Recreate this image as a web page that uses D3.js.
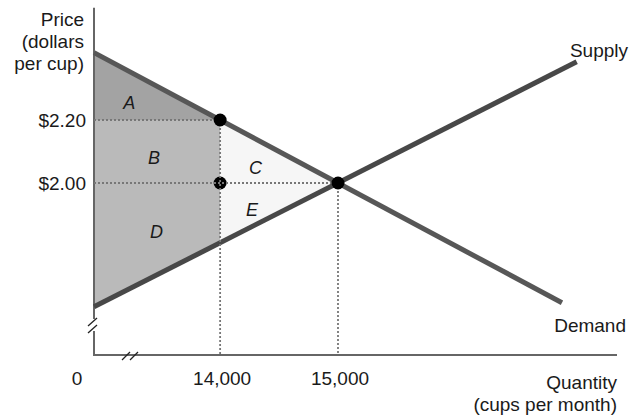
<html>
<head>
    <meta charset="utf-8">
    <script src="https://d3js.org/d3.v7.min.js"></script>
    <style>
        body { margin: 0; background: #fff; }
        text { font-family: "Liberation Sans", Arial, sans-serif; fill: #1a1a1a; }
    </style>
</head>
<body>
<svg id="chart" width="630" height="416"></svg>
<script>
    // quantity (cups per month) and price (dollars per cup)
    const demandQ = [12930, 16900];
    const demandP = [2.414, 1.62];
    const supplyQ = [12930, 17025];
    const supplyP = [1.607, 2.385];

    const qTicks = [14000, 15000];
    const qTickLabels = ["14,000", "15,000"];
    const pTicks = [2.20, 2.00];
    const pTickLabels = ["$2.20", "$2.00"];

    // points: price-ceiling quantity on demand, same quantity at equilibrium price, equilibrium
    const dotQ = [14000, 14000, 15000];
    const dotP = [2.20, 2.00, 2.00];

    const areaLabels = ["A", "B", "C", "D", "E"];
    const areaQ = [13230, 13440, 14300, 13460, 14270];
    const areaP = [2.25, 2.075, 2.045, 1.84, 1.91];

    const qMin = 12930, pMin = 1.454, pMax = 2.556;
    const fs = 19;

    const svg = d3.select("svg#chart");
    const x = d3.scaleLinear().domain([qMin, 15000]).range([94, 338]);
    const y = d3.scaleLinear().domain([2.00, 2.20]).range([183, 120]);

    const supplyAt = q => supplyP[0] + (q - supplyQ[0]) * (supplyP[1] - supplyP[0]) / (supplyQ[1] - supplyQ[0]);
    const demandAt = q => demandP[0] + (q - demandQ[0]) * (demandP[1] - demandP[0]) / (demandQ[1] - demandQ[0]);

    const line = d3.line().x(d => x(d[0])).y(d => y(d[1]));

    // shaded areas
    svg.append("path")
       .attr("d", line([[qMin, demandAt(qMin)], [14000, 2.20], [qMin, 2.20]]) + "Z")
       .attr("fill", "#a3a3a3");
    svg.append("path")
       .attr("d", line([[qMin, 2.20], [14000, 2.20], [14000, supplyAt(14000)], [qMin, supplyAt(qMin)]]) + "Z")
       .attr("fill", "#bababa");
    svg.append("path")
       .attr("d", line([[14000, 2.20], [15000, 2.00], [14000, supplyAt(14000)]]) + "Z")
       .attr("fill", "#f6f6f6");

    // axes with breaks
    const axisColor = "#666";
    const x0 = x(qMin), yBase = y(pMin), yTop = y(pMax);
    svg.append("line").attr("x1", x0).attr("x2", x0).attr("y1", yTop).attr("y2", 319)
       .attr("stroke", axisColor).attr("stroke-width", 2);
    svg.append("line").attr("x1", x0).attr("x2", x0).attr("y1", 331).attr("y2", yBase)
       .attr("stroke", axisColor).attr("stroke-width", 2);
    svg.append("line").attr("x1", x0 - 1).attr("x2", 617).attr("y1", yBase).attr("y2", yBase)
       .attr("stroke", axisColor).attr("stroke-width", 2);
    [[88, 326, 97, 318], [88, 333, 97, 325], [122, 360, 130, 352], [130, 360, 138, 352]].forEach(s => {
        svg.append("line").attr("x1", s[0]).attr("y1", s[1]).attr("x2", s[2]).attr("y2", s[3])
           .attr("stroke", "#222").attr("stroke-width", 1.3);
    });

    // supply & demand curves
    svg.append("path").attr("d", line(demandQ.map((q, i) => [q, demandP[i]])))
       .attr("stroke", "#575757").attr("stroke-width", 5).attr("fill", "none");
    svg.append("path").attr("d", line(supplyQ.map((q, i) => [q, supplyP[i]])))
       .attr("stroke", "#484848").attr("stroke-width", 5).attr("fill", "none");

    // dots (middle one under the dotted lines)
    svg.append("circle").attr("cx", x(dotQ[1])).attr("cy", y(dotP[1])).attr("r", 6.5).attr("fill", "#000");

    // dotted guides
    const dotted = (x1, y1, x2, y2) => svg.append("line")
        .attr("x1", x1).attr("y1", y1).attr("x2", x2).attr("y2", y2)
        .attr("stroke", "#777").attr("stroke-width", 1.8).attr("stroke-dasharray", "2,2");
    dotted(x0, y(2.20), x(14000), y(2.20));
    dotted(x0, y(2.00), x(15000), y(2.00));
    dotted(x(14000), y(2.20), x(14000), yBase);
    dotted(x(15000), y(2.00), x(15000), yBase);

    [0, 2].forEach(i => {
        svg.append("circle").attr("cx", x(dotQ[i])).attr("cy", y(dotP[i])).attr("r", 6.5).attr("fill", "#000");
    });

    // area letters
    areaLabels.forEach((t, i) => {
        svg.append("text").attr("x", x(areaQ[i])).attr("y", y(areaP[i]))
           .attr("text-anchor", "middle").attr("dominant-baseline", "middle")
           .attr("font-size", 18).attr("font-style", "italic").text(t);
    });

    // tick labels
    pTicks.forEach((p, i) => {
        svg.append("text").attr("x", 86).attr("y", y(p)).attr("dy", "0.36em")
           .attr("text-anchor", "end").attr("font-size", fs).text(pTickLabels[i]);
    });
    qTicks.forEach((q, i) => {
        svg.append("text").attr("x", x(q) + 2).attr("y", 385)
           .attr("text-anchor", "middle").attr("font-size", fs).text(qTickLabels[i]);
    });
    svg.append("text").attr("x", 77).attr("y", 385).attr("text-anchor", "middle").attr("font-size", fs).text("0");

    // axis titles
    const multi = (lines, xx, y0, anchor) => lines.forEach((s, i) => {
        svg.append("text").attr("x", xx).attr("y", y0 + i * 22).attr("text-anchor", anchor)
           .attr("font-size", fs).text(s);
    });
    multi(["Price", "(dollars", "per cup)"], 84, 26, "end");
    multi(["Quantity", "(cups per month)"], 617, 389, "end");
    svg.append("text").attr("x", 628).attr("y", 57).attr("text-anchor", "end").attr("font-size", fs).text("Supply");
    svg.append("text").attr("x", 626).attr("y", 332).attr("text-anchor", "end").attr("font-size", fs).text("Demand");
</script>
</body>
</html>
